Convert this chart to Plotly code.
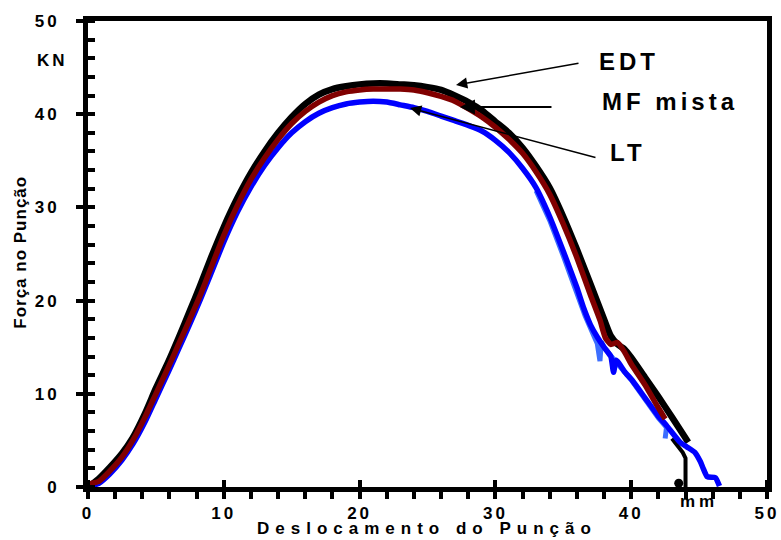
import plotly.graph_objects as go

# EDT (black)
edt_x = [0, 0.8, 1.6, 2.5, 3.3, 4.2, 5.0, 5.9, 6.7, 7.5, 8.2, 9.0, 10.0, 11.0, 12.0, 13.0, 14.0, 15.0,
         16.0, 17.0, 18.0, 19.0, 20.0, 21.0, 22.0, 23.0, 24.0, 25.0, 26.0, 27.0, 28.0, 29.0, 30.0,
         31.0, 32.0, 33.0, 34.0, 35.0, 36.0, 37.0, 38.0, 38.5, 39.0, 39.5, 40.0, 41.0, 42.0, 43.0, 44.2]
edt_y = [0, 0.9, 2.1, 3.6, 5.3, 7.9, 10.6, 13.4, 16.1, 18.9, 21.4, 24.4, 27.9, 31.0, 33.7, 36.0, 38.0, 39.7,
         41.1, 42.1, 42.7, 43.0, 43.2, 43.3, 43.3, 43.2, 43.1, 42.9, 42.6, 42.0, 41.3, 40.4, 39.2,
         38.0, 36.4, 34.4, 32.1, 29.0, 25.5, 21.8, 18.0, 16.2, 15.3, 14.8, 13.9, 11.8, 9.7, 7.5, 4.8]
# EDT tail segment near the end of the test
edt_tail_x = [43.0, 43.8, 44.0, 44.0]
edt_tail_y = [5.2, 3.7, 3.1, 0.0]
edt_dot_x = [43.5]
edt_dot_y = [0.4]

# MF mista (dark red)
mf_x = [0, 0.8, 1.6, 2.5, 3.3, 4.2, 5.0, 5.9, 6.7, 7.5, 8.3, 9.0, 10.0, 11.0, 12.0, 13.0, 14.0, 15.0,
        16.0, 17.0, 18.0, 19.0, 20.0, 21.0, 22.0, 23.0, 24.0, 25.0, 26.0, 27.0, 28.0, 29.0, 30.0,
        31.0, 32.0, 33.0, 34.0, 35.0, 36.0, 37.0, 37.7, 38.1, 38.5, 39.0, 39.5, 40.0, 41.0, 42.0, 42.5]
mf_y = [0.3, 0.6, 1.7, 3.2, 5.0, 7.5, 10.0, 12.8, 15.4, 18.0, 20.7, 23.3, 27.0, 30.2, 33.0, 35.3, 37.3, 39.0,
        40.3, 41.3, 42.0, 42.4, 42.6, 42.7, 42.7, 42.7, 42.6, 42.3, 41.9, 41.4, 40.6, 39.7, 38.6,
        37.3, 35.8, 33.8, 31.4, 28.2, 24.6, 20.6, 17.9, 16.0, 15.3, 15.5, 14.5, 13.2, 11.0, 8.5, 7.3]

# LT (blue)
lt_x = [0, 0.8, 1.6, 2.5, 3.3, 4.2, 5.0, 5.9, 6.7, 7.5, 8.3, 9.0, 10.0, 11.0, 12.0, 13.0, 14.0, 15.0,
        16.0, 17.0, 18.0, 19.0, 20.0, 21.0, 22.0, 23.0, 24.0, 25.0, 26.0, 27.0, 28.0, 29.0, 30.0,
        31.0, 32.0, 33.0, 34.0, 35.0, 36.0, 36.5, 37.0, 37.5, 38.0, 38.5, 38.7, 38.9, 39.5, 40.1,
        41.0, 42.0, 42.6, 43.6, 44.1, 44.7, 45.1, 45.3, 45.6, 46.2, 46.5]
lt_y = [0, 0.4, 1.4, 2.9, 4.6, 7.0, 9.5, 12.3, 14.9, 17.5, 20.2, 22.7, 26.3, 29.5, 32.2, 34.5, 36.4, 38.0,
        39.2, 40.1, 40.7, 41.1, 41.3, 41.4, 41.3, 41.0, 40.7, 40.3, 39.8, 39.3, 38.8, 38.2, 37.2,
        35.9, 34.2, 32.1, 29.0, 25.3, 21.4, 19.2, 17.4, 16.1, 15.0, 14.0, 12.3, 13.6, 12.4, 11.4,
        9.6, 7.6, 6.6, 4.8, 4.3, 3.7, 2.7, 2.0, 1.1, 1.0, 0.1]

# LT second run (lighter blue), descending part
lt2_x = [33.0, 34.0, 35.0, 35.8, 36.6, 37.2, 37.5, 37.7, 37.8, 38.0, 38.4, 39.0, 40.0, 41.0, 42.0, 42.6, 42.5]
lt2_y = [31.8, 28.6, 24.8, 21.4, 18.4, 16.4, 15.4, 13.5, 15.6, 15.0, 14.2, 13.2, 11.5, 9.4, 7.4, 6.4, 5.2]

tick_pos = list(range(0, 51, 2))
x_major = [0, 10, 20, 30, 40, 50]
tick_text = [str(v) if v % 10 == 0 else "" for v in tick_pos]

FONT = "Liberation Sans, Arial, sans-serif"

fig = go.Figure()
fig.add_trace(go.Scatter(x=edt_x, y=edt_y, mode="lines", name="EDT",
                         line=dict(color="#000000", width=6.5, shape="spline", smoothing=0.6)))
fig.add_trace(go.Scatter(x=edt_tail_x, y=edt_tail_y, mode="lines", name="EDT",
                         line=dict(color="#000000", width=4)))
fig.add_trace(go.Scatter(x=edt_dot_x, y=edt_dot_y, mode="markers", name="EDT",
                         marker=dict(color="#000000", size=9), cliponaxis=False))
fig.add_trace(go.Scatter(x=lt2_x, y=lt2_y, mode="lines", name="LT",
                         line=dict(color="#3C6EFF", width=5)))
fig.add_trace(go.Scatter(x=lt_x, y=lt_y, mode="lines", name="LT",
                         line=dict(color="#0000FF", width=5.5, shape="spline", smoothing=0.5)))
fig.add_trace(go.Scatter(x=mf_x, y=mf_y, mode="lines", name="MF mista",
                         line=dict(color="#800000", width=5.5, shape="spline", smoothing=0.5)))

tick_font = dict(family=FONT, size=17, color="#000000", weight="bold")

fig.update_layout(
    template="none",
    width=781, height=540,
    margin=dict(l=88, r=14, t=21, b=53),
    paper_bgcolor="white", plot_bgcolor="white",
    showlegend=False,
    xaxis=dict(range=[0, 50], showgrid=False, zeroline=False, automargin=False,
               showline=True, linewidth=5, linecolor="#000000", mirror=True,
               tickvals=tick_pos, ticktext=tick_text,
               ticks="outside", ticklen=7, tickwidth=4, tickcolor="#000000",
               minor=dict(tickvals=x_major, ticks="inside", ticklen=7, tickwidth=4, tickcolor="#000000"),
               tickfont=tick_font, ticklabelstandoff=0),
    yaxis=dict(range=[0, 50], showgrid=False, zeroline=False, automargin=False,
               showline=True, linewidth=5, linecolor="#000000", mirror=True,
               tickvals=tick_pos, ticktext=tick_text,
               ticks="outside", ticklen=7, tickwidth=4, tickcolor="#000000",
               minor=dict(tickvals=tick_pos, ticks="inside", ticklen=7, tickwidth=4, tickcolor="#000000"),
               tickfont=tick_font, ticklabelstandoff=13),
)

lab_font = dict(family=FONT, size=24, color="#000000", weight="bold")
small_font = dict(family=FONT, size=17, color="#000000", weight="bold")

ann = []
# axis titles
ann.append(dict(text="Deslocamento do Punção", xref="paper", yref="paper", x=0.499, y=-0.09,
                showarrow=False, font=small_font, xanchor="center", yanchor="middle"))
ann.append(dict(text="Força no Punção", xref="paper", yref="paper", x=-0.1, y=0.504,
                showarrow=False, font=small_font, textangle=-90, xanchor="center", yanchor="middle"))
# units
ann.append(dict(text="KN", xref="paper", yref="paper", x=-0.053, y=0.916, showarrow=False,
                font=small_font, xanchor="center", yanchor="middle"))
ann.append(dict(text="mm", xref="paper", yref="paper", x=0.900, y=-0.032, showarrow=False,
                font=small_font, xanchor="center", yanchor="middle"))
# series labels
ann.append(dict(text="EDT", x=39.84, y=45.65, showarrow=False, font=lab_font))
ann.append(dict(text="MF mista", x=42.93, y=41.36, showarrow=False, font=lab_font))
ann.append(dict(text="LT", x=39.73, y=35.94, showarrow=False, font=lab_font))
# arrows
arrow_style = dict(text="", showarrow=True, arrowhead=2, arrowsize=1.5, arrowwidth=1.5,
                   arrowcolor="#000000", axref="x", ayref="y", standoff=0, startstandoff=0)
ann.append(dict(x=27.10, y=43.13, ax=36.23, ay=45.49, **arrow_style))
ann.append(dict(x=27.39, y=40.77, ax=34.24, ay=40.77, **{**arrow_style, "arrowwidth": 2}))
ann.append(dict(x=23.71, y=40.67, ax=37.48, ay=35.30, **arrow_style))
fig.update_layout(annotations=ann)

post = """
document.body.style.margin = '0';
var gd = document.getElementById('{plot_id}');
function sp(sel, v){ gd.querySelectorAll(sel).forEach(function(e){ e.style.letterSpacing = v; }); }
sp('.xtick text', '3px');
sp('.ytick text', '3px');
var spacing = ['6px', '1px', '3px', '4px', '4px', '4px', '4px'];
gd.querySelectorAll('.annotation').forEach(function(g){
  var i = parseInt(g.getAttribute('data-index'));
  if (i < spacing.length) {
    g.querySelectorAll('text').forEach(function(t){ t.style.letterSpacing = spacing[i]; });
  }
});
"""
fig.write_html("out.html", post_script=post, config={"displayModeBar": False})
